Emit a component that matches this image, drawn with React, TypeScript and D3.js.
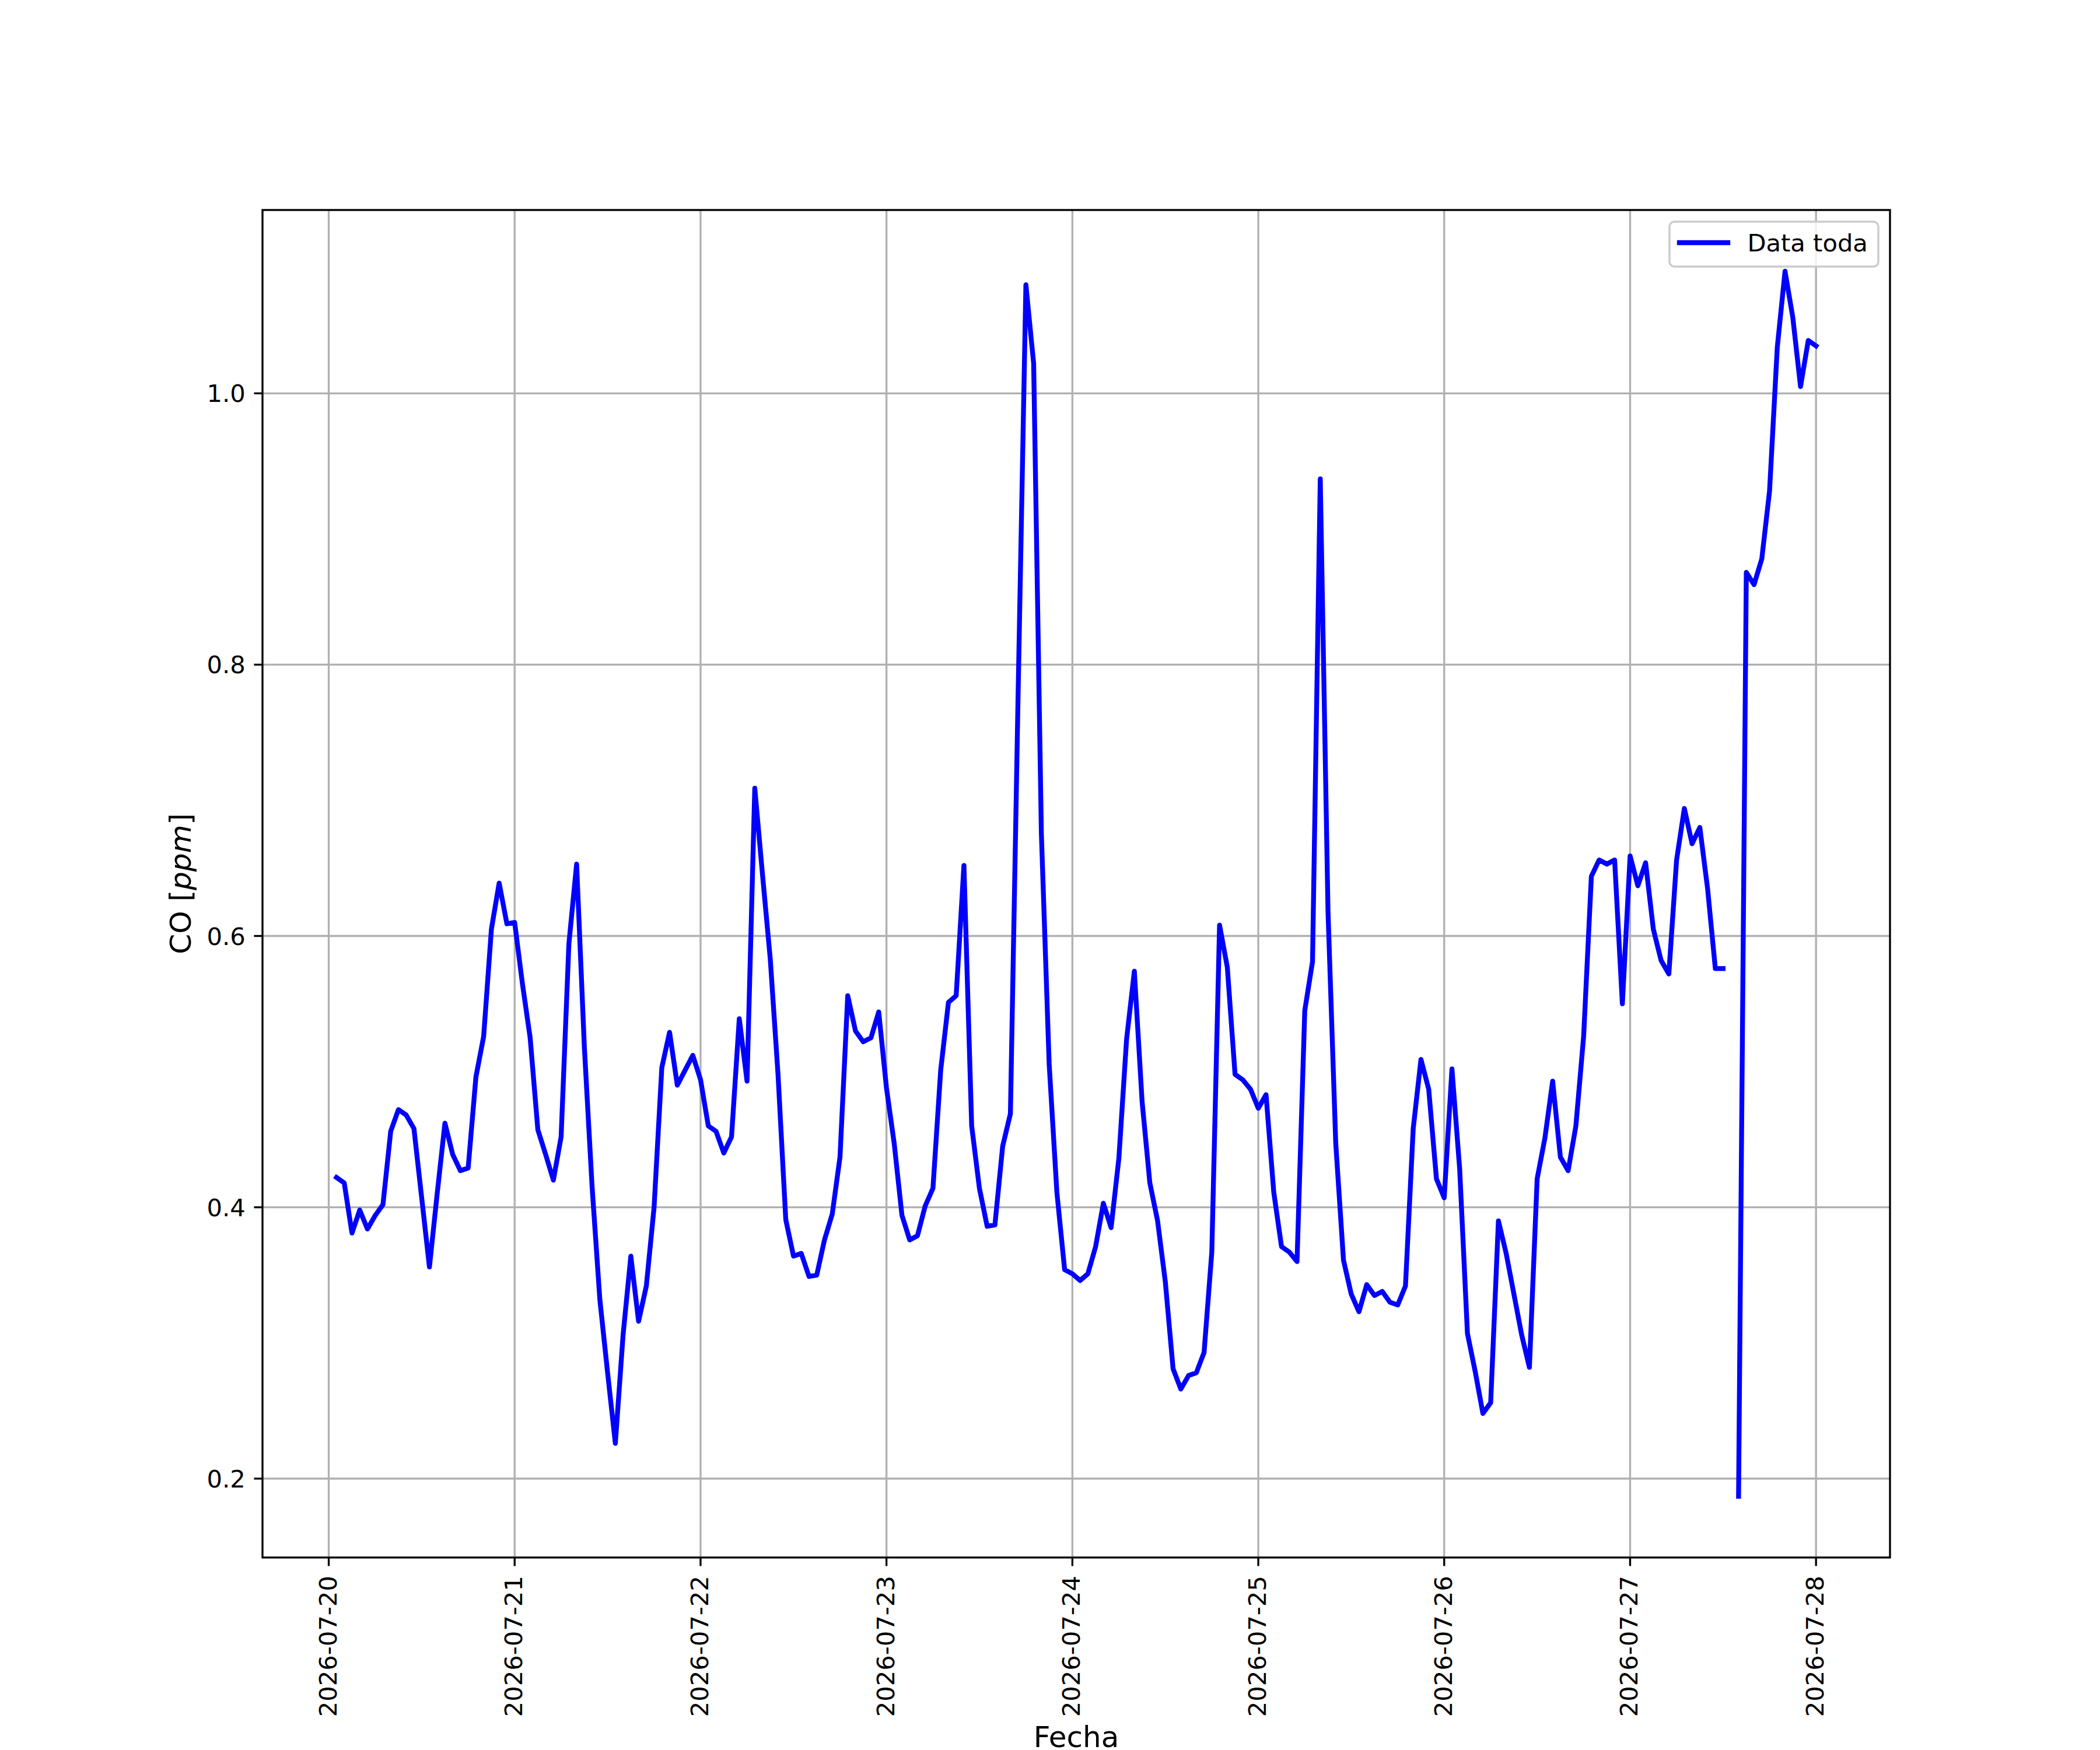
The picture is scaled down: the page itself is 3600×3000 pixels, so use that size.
import React from "react";
import * as d3 from "d3";

// ---- data ----
// hourly CO readings starting 2026-07-20 01:00 (one value per hour); null = missing
const START_UTC = Date.UTC(2026, 6, 20, 1, 0, 0);
const CO_PPM: (number | null)[] = [
  0.422, 0.418, 0.381, 0.398, 0.384, 0.394, 0.402, 0.456, 0.472, 0.468, 0.458, 0.407,
  0.356, 0.410, 0.462, 0.439, 0.427, 0.429, 0.496, 0.526, 0.605, 0.639, 0.609, 0.610,
  0.565, 0.525, 0.457, 0.439, 0.420, 0.452, 0.594, 0.653, 0.518, 0.415, 0.332, 0.278,
  0.226, 0.306, 0.364, 0.316, 0.342, 0.400, 0.503, 0.529, 0.490, 0.501, 0.512, 0.494,
  0.460, 0.456, 0.440, 0.452, 0.539, 0.493, 0.709, 0.645, 0.583, 0.498, 0.391, 0.364,
  0.366, 0.349, 0.350, 0.376, 0.395, 0.437, 0.556, 0.530, 0.522, 0.525, 0.544, 0.488,
  0.447, 0.394, 0.376, 0.379, 0.401, 0.414, 0.501, 0.551, 0.556, 0.652, 0.460, 0.414,
  0.386, 0.387, 0.445, 0.469, 0.780, 1.080, 1.022, 0.675, 0.506, 0.411, 0.354, 0.351,
  0.346, 0.351, 0.371, 0.403, 0.385, 0.436, 0.524, 0.574, 0.478, 0.418, 0.390, 0.345,
  0.281, 0.266, 0.276, 0.278, 0.293, 0.367, 0.608, 0.577, 0.498, 0.494, 0.487, 0.473,
  0.483, 0.411, 0.371, 0.367, 0.360, 0.545, 0.581, 0.937, 0.618, 0.447, 0.361, 0.336,
  0.323, 0.343, 0.335, 0.338, 0.330, 0.328, 0.342, 0.458, 0.509, 0.487, 0.421, 0.407,
  0.502, 0.428, 0.307, 0.279, 0.248, 0.256, 0.390, 0.366, 0.336, 0.306, 0.282, 0.421,
  0.451, 0.493, 0.437, 0.427, 0.460, 0.526, 0.644, 0.656, 0.653, 0.656, 0.550, 0.659,
  0.637, 0.654, 0.605, 0.582, 0.572, 0.656, 0.694, 0.668, 0.680, 0.635, 0.576, 0.576,
  null, 0.187, 0.868, 0.859, 0.878, 0.928, 1.034, 1.090, 1.056, 1.005, 1.039, 1.035,
];
const X_TICK_LABELS = [
  "2026-07-20", "2026-07-21", "2026-07-22", "2026-07-23", "2026-07-24",
  "2026-07-25", "2026-07-26", "2026-07-27", "2026-07-28",
];
const Y_TICKS = [0.2, 0.4, 0.6, 0.8, 1.0];
const SERIES_LABEL = "Data toda";
const X_LABEL = "Fecha";

type Pt = { t: Date; v: number | null };
const POINTS: Pt[] = CO_PPM.map((v, i) => ({ t: new Date(START_UTC + i * 3600000), v }));

export default function App() {
  const W = 3600, H = 3000;
  const L = 450, R = 3240, T = 360, B = 2670;
  const font = "'DejaVu Sans', sans-serif";
  const lw = 3.33;
  const dataLw = 8.33;

  const tExt = d3.extent(POINTS, (d) => d.t.getTime()) as [number, number];
  const tPad = (tExt[1] - tExt[0]) * 0.05;
  const x = d3.scaleUtc().domain([new Date(tExt[0] - tPad), new Date(tExt[1] + tPad)]).range([L, R]);

  const vals = POINTS.filter((d) => d.v != null).map((d) => d.v as number);
  const vMin = d3.min(vals) as number, vMax = d3.max(vals) as number;
  const vPad = (vMax - vMin) * 0.05;
  const y = d3.scaleLinear().domain([vMin - vPad, vMax + vPad]).range([B, T]);

  const parse = d3.utcParse("%Y-%m-%d");
  const xTicks = X_TICK_LABELS.map((s) => ({ s, d: parse(s) as Date }));

  const line = d3
    .line<Pt>()
    .defined((d) => d.v != null)
    .x((d) => x(d.t))
    .y((d) => y(d.v as number));

  const tickLen = 14.6;
  const fs = 41.67;

  return (
    <div style={{ position: "absolute", left: 0, top: 0 }}>
      <svg width={W} height={H} style={{ display: "block", background: "#fff" }} fontFamily={font}>
        <rect x={0} y={0} width={W} height={H} fill="#fff" />
        {/* grid */}
        <g stroke="#b0b0b0" strokeWidth={lw}>
          {xTicks.map((tk) => (
            <line key={tk.s} x1={x(tk.d)} x2={x(tk.d)} y1={T} y2={B} />
          ))}
          {Y_TICKS.map((v) => (
            <line key={v} x1={L} x2={R} y1={y(v)} y2={y(v)} />
          ))}
        </g>
        {/* data line */}
        <path
          d={line(POINTS) || ""}
          fill="none"
          stroke="#0000ff"
          strokeWidth={dataLw}
          strokeLinejoin="round"
          strokeLinecap="square"
        />
        {/* spines */}
        <rect x={L} y={T} width={R - L} height={B - T} fill="none" stroke="#000" strokeWidth={lw} />
        {/* x ticks */}
        {xTicks.map((tk) => {
          const px = x(tk.d);
          return (
            <g key={tk.s}>
              <line x1={px} x2={px} y1={B} y2={B + tickLen} stroke="#000" strokeWidth={lw} />
              <text
                transform={`translate(${px},${B + 2 * tickLen + 2}) rotate(-90)`}
                y={13}
                textAnchor="end"
                fontSize={fs}
                fill="#000"
              >
                {tk.s}
              </text>
            </g>
          );
        })}
        {/* y ticks */}
        {Y_TICKS.map((v) => (
          <g key={v}>
            <line x1={L - tickLen} x2={L} y1={y(v)} y2={y(v)} stroke="#000" strokeWidth={lw} />
            <text x={L - 2 * tickLen} y={y(v) + 15} textAnchor="end" fontSize={fs} fill="#000">
              {v.toFixed(1)}
            </text>
          </g>
        ))}
        {/* axis labels */}
        <text x={(L + R) / 2} y={2995} textAnchor="middle" fontSize={50} fill="#000">
          {X_LABEL}
        </text>
        <text transform={`translate(327,${(T + B) / 2}) rotate(-90)`} textAnchor="middle" fontSize={50} fill="#000">
          CO [<tspan fontStyle="italic">ppm</tspan>]
        </text>
        {/* legend */}
        <g>
          <rect x={2862} y={380} width={358} height={77} rx={8.3} ry={8.3} fill="#fff" fillOpacity={0.8} stroke="#cccccc" strokeWidth={3.5} />
          <line x1={2879} x2={2962} y1={416} y2={416} stroke="#0000ff" strokeWidth={dataLw} strokeLinecap="square" />
          <text x={2995.4} y={431} fontSize={fs} fill="#000">
            {SERIES_LABEL}
          </text>
        </g>
      </svg>
    </div>
  );
}
